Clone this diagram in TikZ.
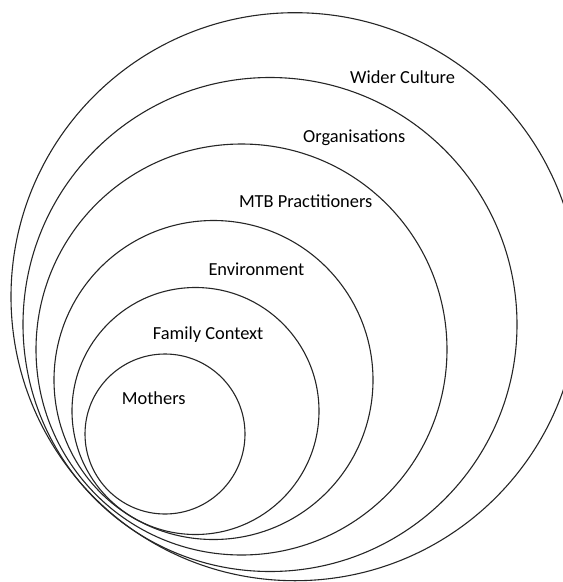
\documentclass[tikz,border=0pt]{standalone}
\usepackage{fontspec}
\setmainfont{Carlito}
\tikzset{
  ring/.style={draw=black!85,line width=1.1pt},
  lbl/.style={anchor=base west,inner sep=0pt,font=\fontsize{18.4}{22}\selectfont}
}
\begin{document}
\begin{tikzpicture}[x=1pt,y=-1pt]
                \useasboundingbox (0,0) rectangle (563,582);
                \clip (0,0) rectangle (563,582);
                % rings, outermost first
                \draw[ring] (295,296.7) circle [radius=284pt];
                \draw[ring] (270,324.5) circle [radius=247pt];
                \draw[ring] (241.5,349.5) circle [radius=205.5pt];
                \draw[ring] (213.5,380) circle [radius=159.5pt];
                \draw[ring] (195.5,411) circle [radius=123.5pt];
                \draw[ring] (165,434) circle [radius=80pt];
                % labels
                \node[lbl] (wider) at (350,83.3) {Wider Culture};
                \node[lbl] (orgs) at (303,142.7) {Organisations};
                \node[lbl] (mtb) at (238.8,207.4) {MTB Practitioners};
                \node[lbl] (env) at (208.3,275.7) {Environment};
                \node[lbl] (family) at (152.7,339) {Family Context};
                \node[lbl] (mothers) at (121.7,404) {Mothers};
            \end{tikzpicture}
\end{document}
